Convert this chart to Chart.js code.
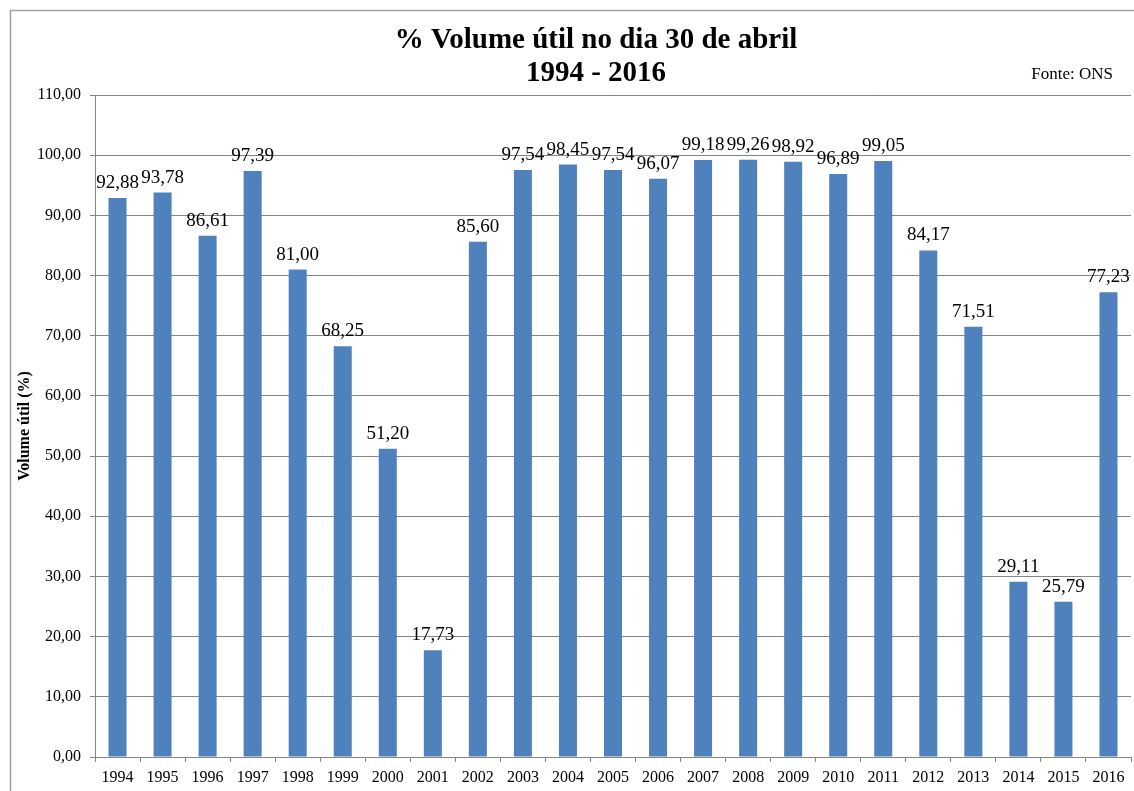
<!DOCTYPE html>
<html>
<head>
<meta charset="utf-8">
<script src="https://cdn.jsdelivr.net/npm/chart.js@4"></script>
<style>
  html, body { margin: 0; padding: 0; background: #fff; }
  #wrap { width: 1134px; height: 791px; position: relative; }
</style>
</head>
<body>
<div id="wrap"><canvas id="volChart"></canvas></div>
<script>
const anos = ['1994','1995','1996','1997','1998','1999','2000','2001','2002','2003','2004','2005',
  '2006','2007','2008','2009','2010','2011','2012','2013','2014','2015','2016']
const volumeUtil = [92.88, 93.78, 86.61, 97.39, 81.00, 68.25, 51.20, 17.73, 85.60, 97.54, 98.45, 97.54,
  96.07, 99.18, 99.26, 98.92, 96.89, 99.05, 84.17, 71.51, 29.11, 25.79, 77.23]
const tituloLinhas = ['% Volume útil no dia 30 de abril', '1994 - 2016']
const fonte = 'Fonte: ONS'
const eixoY = 'Volume útil (%)'

const serif = '"Liberation Serif", "Times New Roman", serif'
const cinza = '#868686'

const fmt = v => v.toFixed(2).replace('.', ',')

// moldura, titulo e rotulos das barras
const decor = {
  id: 'decor',
  beforeDraw(chart) {
    const c = chart.ctx
    c.save()
    c.strokeStyle = '#a0a0a0'
    c.lineWidth = 1.5
    c.strokeRect(10.5, 10.5, 1200, 900)
    c.fillStyle = '#000'
    c.textAlign = 'center'
    c.textBaseline = 'alphabetic'
    c.font = 'bold 29px ' + serif
    c.fillText(tituloLinhas[0], 596, 48)
    c.fillText(tituloLinhas[1], 596, 81)
    c.textAlign = 'right'
    c.font = '17px ' + serif
    c.fillText(fonte, 1113, 79)
    c.restore()
  },
  afterDatasetsDraw(chart) {
    const c = chart.ctx
    const meta = chart.getDatasetMeta(0)
    c.save()
    c.fillStyle = '#000'
    c.font = '19px ' + serif
    c.textAlign = 'center'
    c.textBaseline = 'alphabetic'
    meta.data.forEach((bar, i) => {
      c.fillText(fmt(volumeUtil[i]), bar.x, bar.y - 10)
    })
    c.restore()
  }
}

new Chart(document.getElementById('volChart'), {
  type: 'bar',
  data: {
    labels: anos,
    datasets: [{
      data: volumeUtil,
      backgroundColor: '#4f81bd',
      borderWidth: 0,
      categoryPercentage: 1,
      barPercentage: 0.4
    }]
  },
  options: {
    responsive: true,
    maintainAspectRatio: false,
    animation: false,
    layout: { padding: { top: 95, left: 10, right: 3, bottom: 0 } },
    scales: {
      x: {
        grid: { drawOnChartArea: false, drawTicks: true, tickLength: 5, color: cinza },
        border: { color: cinza },
        ticks: { color: '#000', font: { family: serif, size: 16 }, padding: 6, maxRotation: 0, autoSkip: false },
        afterFit: s => { s.height = 34 }
      },
      y: {
        min: 0,
        max: 110,
        grid: { color: cinza, tickLength: 5 },
        border: { color: cinza },
        ticks: { stepSize: 10, color: '#000', font: { family: serif, size: 16 }, padding: 9, callback: v => fmt(v) },
        title: { display: true, text: eixoY, color: '#000', font: { family: serif, size: 16, weight: 'bold' }, padding: { top: 5, bottom: 0 } },
        afterFit: s => { s.width = 85 }
      }
    },
    plugins: {
      legend: { display: false },
      tooltip: { enabled: false }
    }
  },
  plugins: [decor]
})
</script>
</body>
</html>
